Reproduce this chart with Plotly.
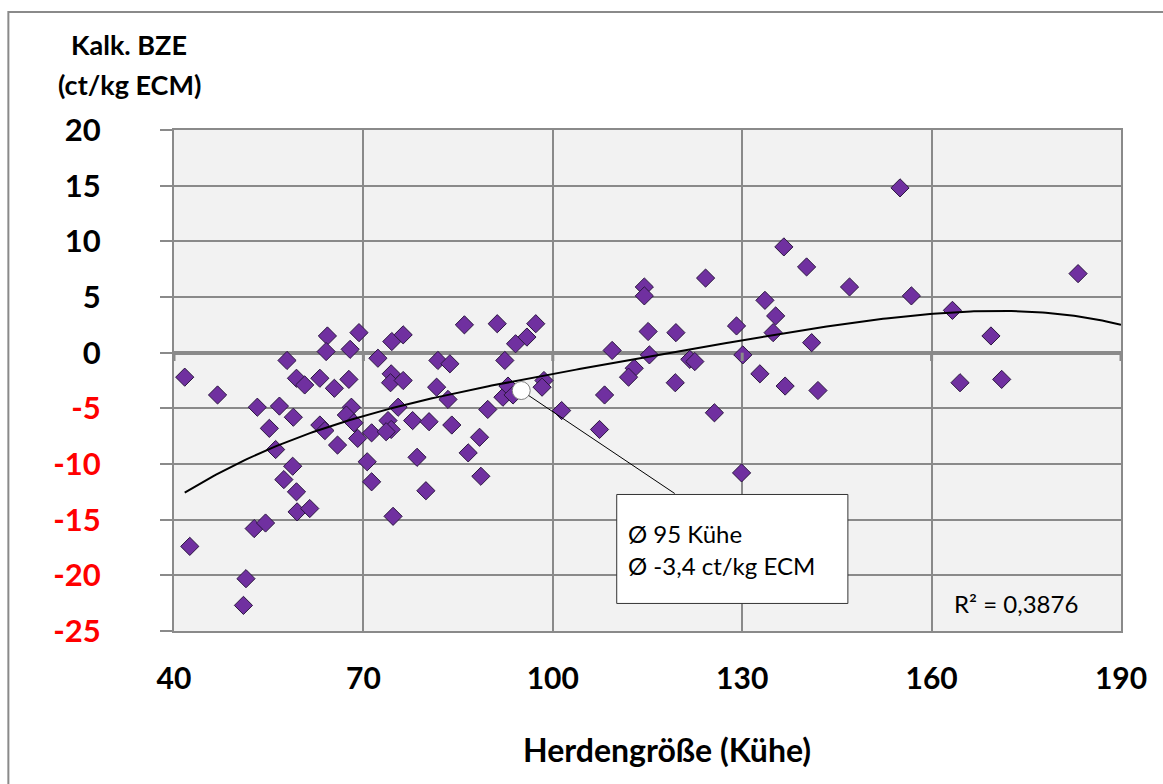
import numpy as np
import plotly.graph_objects as go

# Herd size (cows) per farm
HERD_SIZE = [
    41.7, 46.9, 57.9, 64.3, 64.1, 59.4, 60.7, 63.1, 65.4, 67.7, 67.9, 69.3,
    53.2, 56.7, 58.9, 55.1, 63.1, 63.9, 65.9, 56.1, 68.1, 67.3, 68.5, 69.1,
    58.8, 57.4, 59.4, 59.5, 61.5, 52.7, 54.5, 42.5, 51.4, 51.0,
    74.5, 76.3, 72.3, 86.0, 91.2, 97.3, 95.9, 94.1, 81.8, 83.7, 92.4, 74.4,
    74.3, 76.3, 81.6, 83.4, 92.1, 92.9, 93.7, 98.6, 98.3, 75.5, 89.7, 71.3,
    73.9, 74.4, 73.6, 77.8, 80.4, 84.0, 88.4, 86.6, 78.5, 70.6, 71.3, 79.9,
    88.6, 74.7, 101.4,
    115.1, 119.5, 129.1, 109.4, 115.3, 121.7, 122.5, 130.1, 132.8, 112.9,
    112.0, 119.4, 108.2, 107.4, 125.6, 129.9,
    114.5, 114.5, 124.2,
    155.0, 136.6, 140.2, 147.0, 156.8, 183.2, 133.6, 135.3, 134.9, 141.0,
    163.3, 169.4, 136.8, 142.0, 164.5, 171.1,
]

# Calculated operating result (ct/kg ECM) per farm
BZE = [
    -2.2, -3.8, -0.7, 1.5, 0.1, -2.3, -2.9, -2.3, -3.2, -2.4, 0.3, 1.8,
    -4.9, -4.8, -5.8, -6.8, -6.5, -7.0, -8.3, -8.7, -4.9, -5.6, -6.3, -7.7,
    -10.2, -11.4, -12.5, -14.3, -14.0, -15.8, -15.3, -17.4, -20.3, -22.7,
    1.0, 1.6, -0.5, 2.5, 2.6, 2.6, 1.4, 0.8, -0.7, -1.0, -0.7, -1.9,
    -2.7, -2.5, -3.1, -4.2, -4.0, -3.0, -3.8, -2.5, -3.1, -4.9, -5.1, -7.2,
    -6.1, -6.9, -7.1, -6.1, -6.2, -6.5, -7.6, -9.0, -9.4, -9.8, -11.6, -12.4,
    -11.1, -14.7, -5.2,
    1.9, 1.8, 2.4, 0.2, -0.2, -0.6, -0.8, -0.2, -1.9, -1.4,
    -2.2, -2.7, -3.8, -6.9, -5.4, -10.8,
    5.9, 5.1, 6.7,
    14.8, 9.5, 7.7, 5.9, 5.1, 7.1, 4.7, 3.3, 1.8, 0.9,
    3.8, 1.5, -3.0, -3.4, -2.7, -2.4,
]

# Averages stated in the callout
MEAN_HERD = 95
MEAN_BZE = -3.4

X_TICKS = [40, 70, 100, 130, 160, 190]
Y_TICKS = [20, 15, 10, 5, 0, -5, -10, -15, -20, -25]
R2_TEXT = "R² = 0,3876"

FONT = "Lato"
GRID = "#8a8a8a"
PURPLE = "#7030a0"

# Polynomial trend line (order 4) fitted to the farm data
coef = np.polyfit(HERD_SIZE, BZE, 4)
trend_x = np.linspace(min(HERD_SIZE), X_TICKS[-1], 300)
trend_y = np.polyval(coef, trend_x)

fig = go.Figure()

fig.add_trace(go.Scatter(
    x=HERD_SIZE, y=BZE, mode="markers",
    marker=dict(symbol="diamond", size=14, color=PURPLE,
                line=dict(color="#2b1640", width=1)),
    hoverinfo="x+y",
))

fig.add_trace(go.Scatter(
    x=trend_x, y=trend_y, mode="lines",
    line=dict(color="black", width=2),
    hoverinfo="skip",
))

fig.add_trace(go.Scatter(
    x=[MEAN_HERD], y=[MEAN_BZE], mode="markers",
    marker=dict(symbol="circle", size=18, color="white",
                line=dict(color="#7f7f7f", width=1)),
    hoverinfo="x+y",
))


def tick_label(v):
    if v < 0:
        return f"<span style='color:#ff0000'>{v}</span>"
    return str(v)


fig.update_xaxes(
    range=[X_TICKS[0], X_TICKS[-1]],
    tickvals=X_TICKS,
    ticktext=[str(v) for v in X_TICKS],
    showgrid=True, gridcolor=GRID, gridwidth=2,
    zeroline=False,
    showline=True, mirror=True, linecolor=GRID, linewidth=2,
    ticks="",
    ticklabelstandoff=20,
    tickfont=dict(family=FONT, size=30, color="black", weight="bold"),
)

fig.update_yaxes(
    range=[Y_TICKS[-1], Y_TICKS[0]],
    tickvals=Y_TICKS,
    ticktext=[tick_label(v) for v in Y_TICKS],
    showgrid=True, gridcolor=GRID, gridwidth=2,
    zeroline=True, zerolinecolor=GRID, zerolinewidth=4,
    showline=True, mirror=True, linecolor=GRID, linewidth=2,
    ticks="outside", ticklen=12, tickwidth=2, tickcolor=GRID,
    ticklabelstandoff=53,
    tickfont=dict(family=FONT, size=31, color="black", weight="bold"),
)

shapes = [
    # outer chart frame
    dict(type="rect", xref="paper", yref="paper",
         x0=-0.1749, x1=1.3, y0=-0.5, y1=1.2355,
         line=dict(color=GRID, width=2), fillcolor="rgba(0,0,0,0)", layer="below"),
    # callout box
    dict(type="rect", xref="paper", yref="paper",
         x0=0.4675, x1=0.7116, y0=0.055, y1=0.2725,
         line=dict(color="#333333", width=1), fillcolor="white"),
]
# small tick marks on the horizontal axis at y = 0
for v in X_TICKS:
    shapes.append(dict(type="line", xref="x", yref="y",
                       x0=v, x1=v, y0=0, y1=-0.75,
                       line=dict(color=GRID, width=3)))

annotations = [
    dict(text="<b>Kalk. BZE</b>", xref="paper", yref="paper",
         x=-0.047, y=1.1697, showarrow=False, xanchor="center", yanchor="middle",
         font=dict(family=FONT, size=27, color="black")),
    dict(text="<b>(ct/kg ECM)</b>", xref="paper", yref="paper",
         x=-0.047, y=1.0918, showarrow=False, xanchor="center", yanchor="middle",
         font=dict(family=FONT, size=27, color="black")),
    dict(text="<b>Herdengröße (Kühe)</b>", xref="paper", yref="paper",
         x=0.5203, y=-0.2375, showarrow=False, xanchor="center", yanchor="middle",
         font=dict(family=FONT, size=32, color="black")),
    # leader line from the average point to the callout
    dict(text="", x=MEAN_HERD, y=MEAN_BZE, xref="x", yref="y",
         showarrow=True, arrowhead=0, arrowwidth=1, arrowcolor="black",
         ax=155, ay=104, standoff=9),
    dict(text=f"Ø {MEAN_HERD} Kühe", xref="paper", yref="paper",
         x=0.4775, y=0.1956, showarrow=False, xanchor="left", yanchor="middle",
         font=dict(family=FONT, size=24, color="black")),
    dict(text=f"Ø {str(MEAN_BZE).replace('.', ',')} ct/kg ECM", xref="paper", yref="paper",
         x=0.4775, y=0.1317, showarrow=False, xanchor="left", yanchor="middle",
         font=dict(family=FONT, size=24, color="black")),
    dict(text=R2_TEXT, xref="paper", yref="paper",
         x=0.889, y=0.054, showarrow=False, xanchor="center", yanchor="middle",
         font=dict(family=FONT, size=24, color="black")),
]

fig.update_layout(
    width=1163, height=784,
    margin=dict(l=174, r=42, t=130, b=153),
    paper_bgcolor="white",
    plot_bgcolor="#f2f2f2",
    showlegend=False,
    shapes=shapes,
    annotations=annotations,
)

fig.write_html("out.html")
